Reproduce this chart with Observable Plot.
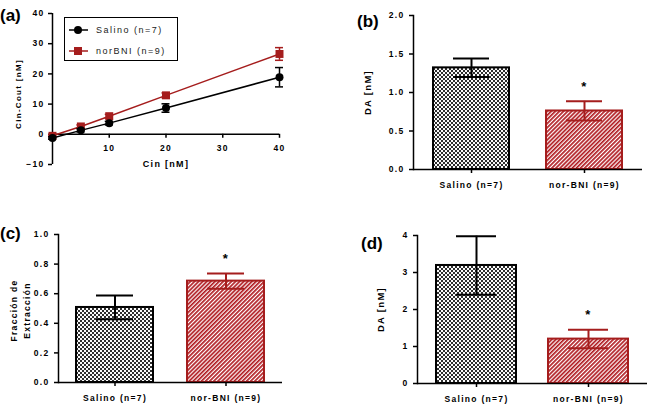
<!DOCTYPE html>
<html>
<head>
<meta charset="utf-8">
<script src="https://cdn.jsdelivr.net/npm/d3@7"></script>
<script src="https://cdn.jsdelivr.net/npm/@observablehq/plot@0.6"></script>
<style>
  body { margin: 0; background: #fff; }
  #wrap { position: relative; width: 650px; height: 407px; overflow: hidden; font-family: "Liberation Sans", Arial, sans-serif; background: #fff; }
  .panel { position: absolute; }
  .lbl { position: absolute; font-size: 17px; font-weight: bold; line-height: 17px; color: #000; }
  #legend { position: absolute; left: 64px; top: 17px; width: 114px; height: 44px; box-sizing: border-box; border: 1.5px solid #000; background: #fff; }
  #legend .row { position: absolute; left: 4px; height: 12px; display: flex; align-items: center; font-size: 9px; letter-spacing: 1.5px; color: #222; }
  #legend svg { margin-right: 8px; }
</style>
</head>
<body>
<svg width="0" height="0" style="position:absolute">
  <defs>
    <pattern id="checker" width="4" height="4" patternUnits="userSpaceOnUse">
      <rect width="4" height="4" fill="#fafafa"/>
      <rect width="2" height="2" fill="#2e2e2e"/>
      <rect x="2" y="2" width="2" height="2" fill="#2e2e2e"/>
    </pattern>
    <pattern id="hatch" width="2.9" height="2.9" patternUnits="userSpaceOnUse" patternTransform="rotate(45)">
      <rect width="2.9" height="2.9" fill="#fff"/>
      <rect width="1.7" height="2.9" fill="#b01c22"/>
    </pattern>
  </defs>
</svg>
<div id="wrap"></div>
<script>
// ---------- Data ----------
// Panel (a)
const cin = [0, 5, 10, 20, 40];
const salinoMean = [-1.2, 1.3, 3.7, 8.7, 18.9];
const salinoSem = [0.4, 0.5, 0.6, 1.4, 3.2];
const norbniMean = [-0.5, 2.6, 6.0, 12.9, 26.6];
const norbniSem = [0.3, 0.5, 0.6, 0.8, 2.1];
const seriesNames = ["Salino (n=7)", "norBNI (n=9)"];
const aYTicks = [-10, 0, 10, 20, 30, 40];
const aXTicks = [10, 20, 30, 40];

// Bar panels
const groups = ["Salino (n=7)", "nor-BNI (n=9)"];
const sig = [false, true];
const bMean = [1.32, 0.76], bSem = [0.12, 0.125];
const cMean = [0.507, 0.685], cSem = [0.08, 0.052];
const dMean = [3.19, 1.2], dSem = [0.79, 0.25];
const bTicks = [0, 0.5, 1.0, 1.5, 2.0];
const cTicks = [0, 0.2, 0.4, 0.6, 0.8, 1.0];
const dTicks = [0, 1, 2, 3, 4];

// ---------- Styles ----------
const black = "#000";
const red = "#a51d1d";
const seriesColors = [black, red];
const barFills = ["url(#checker)", "url(#hatch)"];
const barStrokes = [black, red];
const baseStyle = {
  fontFamily: '"Liberation Sans", Arial, sans-serif',
  fontSize: "8.5px",
  fontWeight: "bold",
  letterSpacing: "1.3px",
  background: "transparent",
  overflow: "visible",
  color: "#000"
};

const wrap = document.getElementById("wrap");
function place(node, left, top) {
  const d = document.createElement("div");
  d.className = "panel";
  d.style.left = left + "px";
  d.style.top = top + "px";
  d.appendChild(node);
  wrap.appendChild(d);
}

// ---------- Panel (a) ----------
const aData = [];
cin.forEach((x, i) => {
  aData.push({s: 1, x, y: norbniMean[i], e: norbniSem[i]});
});
cin.forEach((x, i) => {
  aData.push({s: 0, x, y: salinoMean[i], e: salinoSem[i]});
});
const seriesMarks = [1, 0].flatMap(s => {
  const d = aData.filter(v => v.s === s);
  const c = seriesColors[s];
  return [
    Plot.line(d, {x: "x", y: "y", stroke: c, strokeWidth: 1.5}),
    Plot.ruleX(d, {x: "x", y1: v => v.y - v.e, y2: v => v.y + v.e, stroke: c, strokeWidth: 1.5}),
    Plot.ruleY(d, {y: v => v.y + v.e, x1: "x", x2: "x", insetLeft: -4, insetRight: -4, stroke: c, strokeWidth: 1.5}),
    Plot.ruleY(d, {y: v => v.y - v.e, x1: "x", x2: "x", insetLeft: -4, insetRight: -4, stroke: c, strokeWidth: 1.5}),
    Plot.dot(d, {x: "x", y: "y", symbol: s ? "square" : "circle", r: s ? 4.5 : 4, fill: c, stroke: "none"})
  ];
});
const plotA = Plot.plot({
  width: 325, height: 200,
  marginLeft: 52, marginRight: 46, marginTop: 13, marginBottom: 36,
  style: baseStyle,
  x: {domain: [0, 40], axis: null},
  y: {domain: [-10, 40], axis: null},
  marks: [
    Plot.ruleX([0], {strokeWidth: 1.5}),
    Plot.ruleY([0], {strokeWidth: 1.5}),
    Plot.axisY({ticks: aYTicks, tickSize: 4, tickPadding: 4, strokeWidth: 1.5, label: null}),
    Plot.ruleX(aXTicks, {x: d => d, y1: 0, y2: 0, insetBottom: -4, strokeWidth: 1.5}),
    Plot.text(aXTicks, {x: d => d, y: 0, dy: 14, text: d => String(d)}),
    Plot.text(["Cin [nM]"], {frameAnchor: "bottom", lineAnchor: "middle", textAnchor: "middle", dy: 0, fontSize: 9}),
    Plot.text(["Cin-Cout [nM]"], {frameAnchor: "left", textAnchor: "middle", lineAnchor: "middle", rotate: -90, dx: -34, dy: 5, fontSize: 8}),
    ...seriesMarks
  ]
});
place(plotA, 0, 0);

// Legend for (a)
const legend = document.createElement("div");
legend.id = "legend";
seriesNames.forEach((name, s) => {
  const row = document.createElement("div");
  row.className = "row";
  row.style.top = (s === 0 ? 6 : 27) + "px";
  const c = seriesColors[s];
  const sym = s === 0
    ? `<circle cx="9" cy="6" r="4" fill="${c}"/>`
    : `<rect x="5" y="2" width="8" height="8" fill="${c}"/>`;
  row.innerHTML = `<svg width="19" height="12"><line x1="0" x2="19" y1="6" y2="6" stroke="${c}" stroke-width="1.5"/>${sym}</svg><span>${name}</span>`;
  legend.appendChild(row);
});
wrap.appendChild(legend);

// ---------- Bar panels ----------
function barPanel({mean, sem, ticks, fmt, height, margins, padIn, padOut, title, titleDx, titleDy, titleLineHeight, titleSize}) {
  const data = groups.map((g, i) => ({g, m: mean[i], e: sem[i], sig: sig[i], i}));
  const marks = [];
  data.forEach(d => {
    marks.push(Plot.barY([d], {x: "g", y: "m", fill: barFills[d.i], stroke: barStrokes[d.i], strokeWidth: 2}));
  });
  data.forEach(d => {
    const c = barStrokes[d.i];
    marks.push(Plot.ruleX([d], {x: "g", y1: v => v.m - v.e, y2: v => v.m + v.e, stroke: c, strokeWidth: 2}));
    marks.push(Plot.tickY([d], {x: "g", y: v => v.m + v.e, stroke: c, strokeWidth: 2, insetLeft: 20, insetRight: 20}));
    marks.push(Plot.tickY([d], {x: "g", y: v => v.m - v.e, stroke: c, strokeWidth: 2, insetLeft: 20, insetRight: 20}));
  });
  marks.push(Plot.text(data.filter(d => d.sig), {x: "g", y: v => v.m + v.e, text: () => "*", dy: -15, fontSize: 13, lineAnchor: "middle"}));
  marks.push(Plot.ruleY([0], {strokeWidth: 1.5}));
  marks.push(Plot.frame({anchor: "left", strokeWidth: 1.5}));
  marks.push(Plot.axisY({ticks, tickFormat: fmt, tickSize: 4, tickPadding: 5, strokeWidth: 1.5, label: null}));
  marks.push(Plot.axisX({tickSize: 4, tickPadding: 8, strokeWidth: 1.5, label: null}));
  marks.push(Plot.text([title], {frameAnchor: "left", textAnchor: "middle", rotate: -90, dx: titleDx, dy: titleDy || 0,
    lineAnchor: "middle", lineHeight: titleLineHeight || 1, fontSize: titleSize}));
  return Plot.plot({
    width: 325, height,
    marginLeft: margins[0], marginRight: margins[1], marginTop: margins[2], marginBottom: margins[3],
    style: baseStyle,
    x: {type: "band", domain: groups, paddingInner: padIn, paddingOuter: padOut},
    y: {domain: [ticks[0], ticks[ticks.length - 1]]},
    marks
  });
}

place(barPanel({mean: bMean, sem: bSem, ticks: bTicks, fmt: d3.format(".1f"), height: 200,
  margins: [88, 8, 15, 31], padIn: 0.33, padOut: 0.17, title: "DA [nM]", titleDx: -46, titleDy: 0, titleSize: 9.5}), 325, 0);
place(barPanel({mean: cMean, sem: cSem, ticks: cTicks, fmt: d3.format(".1f"), height: 207,
  margins: [58, 43, 34, 25], padIn: 0.31, padOut: 0.16, title: "Fracción de\nExtracción", titleDx: -39, titleDy: 2, titleLineHeight: 1.55, titleSize: 8.5}), 0, 200);
place(barPanel({mean: dMean, sem: dSem, ticks: dTicks, fmt: d3.format("d"), height: 207,
  margins: [92, 3, 35, 24], padIn: 0.29, padOut: 0.17, title: "DA [nM]", titleDx: -37, titleDy: 0, titleSize: 9.5}), 325, 200);

// Panel letters
[["(a)", 0, 7], ["(b)", 357, 13], ["(c)", 0, 225], ["(d)", 361, 235]].forEach(([t, x, y]) => {
  const l = document.createElement("div");
  l.className = "lbl";
  l.style.left = x + "px";
  l.style.top = y + "px";
  l.textContent = t;
  wrap.appendChild(l);
});
</script>
</body>
</html>
